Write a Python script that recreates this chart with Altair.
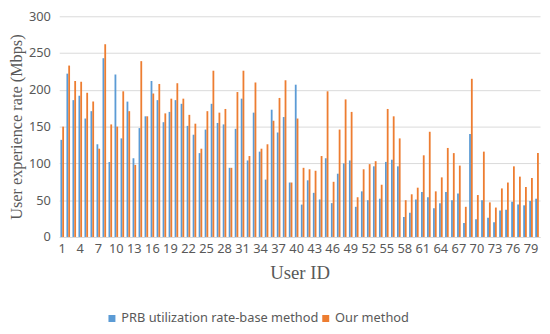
import altair as alt
import pandas as pd

ids = list(range(1, 81))
series = ["PRB utilization rate-base method", "Our method"]

prb = [132, 222, 186, 192, 161, 171, 126, 243, 102, 221,
       134, 184, 107, 148, 164, 212, 186, 156, 170, 186,
       181, 151, 139, 114, 146, 181, 155, 153, 94, 147,
       188, 104, 169, 116, 78, 173, 142, 163, 74, 207,
       44, 77, 60, 51, 107, 46, 86, 100, 104, 41,
       62, 50, 96, 52, 102, 105, 96, 27, 33, 51,
       61, 54, 39, 46, 61, 50, 59, 19, 140, 24,
       50, 26, 20, 36, 37, 48, 44, 43, 49, 52]

ours = [150, 233, 212, 211, 196, 184, 120, 262, 153, 150,
        198, 171, 98, 239, 164, 195, 208, 168, 188, 209,
        188, 166, 154, 120, 171, 226, 169, 174, 94, 197,
        226, 110, 210, 120, 126, 158, 189, 213, 74, 161,
        94, 92, 90, 110, 198, 75, 146, 187, 170, 54,
        92, 99, 103, 71, 174, 164, 134, 50, 58, 67,
        111, 143, 62, 81, 121, 114, 97, 41, 215, 57,
        116, 47, 40, 66, 74, 96, 82, 68, 80, 114]

y_ticks = [0, 50, 100, 150, 200, 250, 300]
x_labels = list(range(1, 80, 3))

df = pd.DataFrame({
    "id": ids * 2,
    "method": [series[0]] * len(ids) + [series[1]] * len(ids),
    "rate": prb + ours,
})

grey = "#595959"

chart = alt.Chart(df).mark_bar().encode(
    x=alt.X("id:O", title="User ID",
            scale=alt.Scale(paddingInner=0.4, paddingOuter=0.2),
            axis=alt.Axis(values=x_labels, labelAngle=0, ticks=False,
                          labelFont="Noto Sans", labelFontSize=13, labelColor=grey,
                          labelPadding=6, labelOverlap=False,
                          domainColor="#d9d9d9", domainWidth=1,
                          titleFont="Liberation Serif", titleFontSize=19,
                          titleFontWeight="normal", titleColor=grey, titlePadding=8)),
    xOffset=alt.XOffset("method:N", sort=series),
    y=alt.Y("rate:Q", title="User experience rate (Mbps)",
            scale=alt.Scale(domain=[0, 300], nice=False),
            axis=alt.Axis(values=y_ticks, ticks=False, domain=False,
                          gridColor="#d9d9d9", gridWidth=1,
                          labelFont="Noto Sans", labelFontSize=13, labelColor=grey,
                          labelPadding=9,
                          titleFont="Liberation Serif", titleFontSize=16.5,
                          titleFontWeight="normal", titleColor=grey, titlePadding=4)),
    color=alt.Color("method:N", sort=series,
                    scale=alt.Scale(domain=series, range=["#5B9BD5", "#ED7D31"]),
                    legend=alt.Legend(orient="none", legendX=47, legendY=300,
                                      direction="horizontal", title=None,
                                      symbolType="square", symbolSize=50,
                                      symbolStrokeWidth=0, labelLimit=400,
                                      labelOffset=3,
                                      labelFont="Noto Sans", labelFontSize=13,
                                      labelColor=grey, columnPadding=-6)),
).properties(
    width=488, height=224,
    padding={"left": 0, "top": 0, "right": 2, "bottom": 0},
).configure_view(stroke=None)

chart.save("out.html", embed_options={"renderer": "svg", "actions": False})
